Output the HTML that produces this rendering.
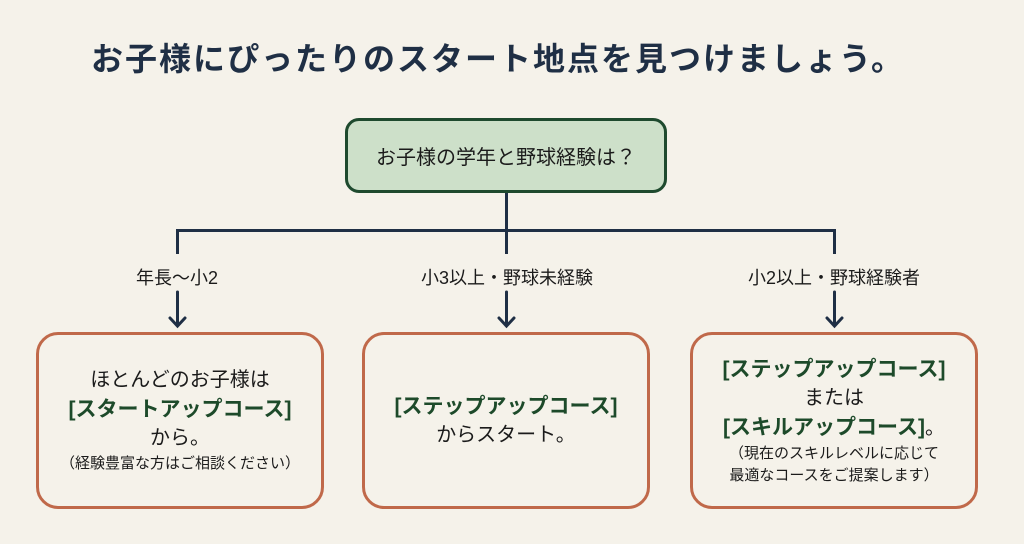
<!DOCTYPE html>
<html><head><meta charset="utf-8"><style>
body{margin:0;width:1024px;height:544px;background:#f5f2ea;position:relative;overflow:hidden;font-family:"Liberation Sans","Noto Sans CJK JP",sans-serif;color:#1b1b1b}
.t{position:absolute;left:0;width:996px;text-align:center;top:34px;font-size:32px;font-weight:bold;color:#1f2f45;letter-spacing:2px}
.q{position:absolute;left:345px;top:118px;width:316px;height:69px;background:#cde0c9;border:3px solid #1e4a2e;border-radius:14px;display:flex;align-items:center;justify-content:center;font-size:20px}
.ln{position:absolute;background:#1f2f45}
.lb{position:absolute;top:264px;font-size:18px;text-align:center;width:260px}
.b{position:absolute;top:332px;width:282px;height:171px;border:3px solid #c0694a;border-radius:22px;display:flex;flex-direction:column;align-items:center;justify-content:center;text-align:center;font-size:20px;line-height:29px}
.g{color:#1d4a2a;font-weight:bold;font-size:21px}
.s{font-size:15px;line-height:22px}
</style></head><body>
<div class="t">お子様にぴったりのスタート地点を見つけましょう。</div>
<div class="q">お子様の学年と野球経験は？</div>
<div class="ln" style="left:505px;top:193px;width:3px;height:61px"></div>
<div class="ln" style="left:176px;top:229px;width:660px;height:3px"></div>
<div class="ln" style="left:176px;top:229px;width:3px;height:25px"></div>
<div class="ln" style="left:833px;top:229px;width:3px;height:25px"></div>
<div class="lb" style="left:47px">年長〜小2</div>
<div class="lb" style="left:377px">小3以上・野球未経験</div>
<div class="lb" style="left:704px">小2以上・野球経験者</div>
<svg style="position:absolute;left:0;top:0" width="1024" height="544">
<g stroke="#1f2f45" stroke-width="3" fill="none" stroke-linecap="round">
<path d="M177.5 292V326M170 318l7.5 8 7.5-8"/>
<path d="M506.5 292V326M499 318l7.5 8 7.5-8"/>
<path d="M834.5 292V326M827 318l7.5 8 7.5-8"/>
</g></svg>
<div class="b" style="left:36px"><div>ほとんどのお子様は</div><div class="g">[スタートアップコース]</div><div>から。</div><div class="s">（経験豊富な方はご相談ください）</div></div>
<div class="b" style="left:362px"><div class="g">[ステップアップコース]</div><div>からスタート。</div></div>
<div class="b" style="left:690px"><div class="g">[ステップアップコース]</div><div>または</div><div><span class="g">[スキルアップコース]</span>。</div><div class="s">（現在のスキルレベルに応じて<br>最適なコースをご提案します）</div></div>
</body></html>
